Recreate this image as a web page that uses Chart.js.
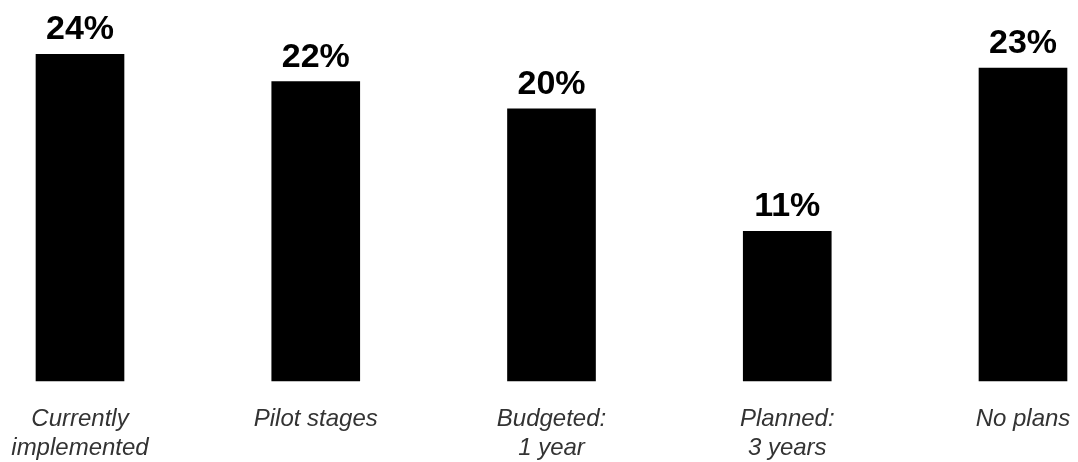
<!DOCTYPE html>
<html>
<head>
<meta charset="utf-8">
<script src="https://cdn.jsdelivr.net/npm/chart.js@4.4.1/dist/chart.umd.min.js"></script>
<style>
  html, body { margin: 0; padding: 0; background: #fff; }
  #wrap { width: 1078px; height: 462px; }
</style>
</head>
<body>
<div id="wrap"><canvas id="barChart"></canvas></div>
<script>
const categories = [
    ['Currently', 'implemented'],
    'Pilot stages',
    ['Budgeted:', '1 year'],
    ['Planned:', '3 years'],
    'No plans'
];
const shares = [24, 22, 20, 11, 23];

// Percent labels above each bar
const valueLabels = {
    id: 'valueLabels',
    afterDatasetsDraw(chart) {
        const ctx = chart.ctx;
        const meta = chart.getDatasetMeta(0);
        ctx.save();
        ctx.font = 'bold 34px "Liberation Sans", Arial, sans-serif';
        ctx.fillStyle = '#000';
        ctx.textAlign = 'center';
        ctx.textBaseline = 'alphabetic';
        meta.data.forEach((bar, i) => {
            ctx.fillText(shares[i] + '%', bar.x, bar.y - 15);
        });
        ctx.restore();
    }
};

new Chart(document.getElementById('barChart'), {
    type: 'bar',
    data: {
        labels: categories,
        datasets: [{
            data: shares,
            backgroundColor: '#000',
            barThickness: 88,
            clip: false
        }]
    },
    options: {
        responsive: true,
        maintainAspectRatio: false,
        animation: false,
        layout: { padding: { left: 80, right: 55, top: 0, bottom: 0 } },
        plugins: { legend: { display: false }, tooltip: { enabled: false } },
        scales: {
            x: {
                offset: false,
                grid: { display: false, drawTicks: false },
                border: { display: false },
                ticks: {
                    autoSkip: false,
                    maxRotation: 0,
                    padding: 24,
                    color: '#333',
                    font: { family: '"Liberation Sans", Arial, sans-serif', size: 24, style: 'italic', lineHeight: 1.2 }
                },
                afterFit: s => {
                    s.height = 81;
                    // labels fit inside the layout padding already
                    s.paddingLeft = 0;
                    s.paddingRight = 0;
                }
            },
            y: {
                display: false,
                min: 0,
                max: 28
            }
        }
    },
    plugins: [valueLabels]
});
</script>
</body>
</html>
